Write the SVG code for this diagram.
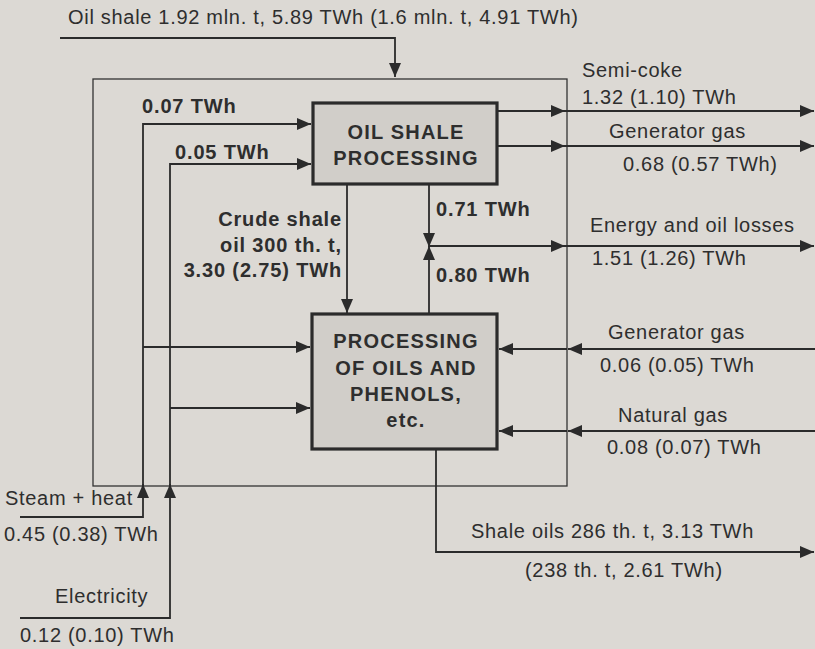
<svg xmlns="http://www.w3.org/2000/svg" width="815" height="649" viewBox="0 0 815 649">
<defs>
<marker id="ah" markerUnits="userSpaceOnUse" markerWidth="15" markerHeight="13" refX="14" refY="6.5" orient="auto">
<path d="M0,0.5 L14,6.5 L0,12.5 z" fill="#2b2b2b"/>
</marker>
<style>
.ln{fill:none;stroke:#2b2b2b;stroke-width:1.8}
.bd{fill:none;stroke:#333;stroke-width:1.3}
.box{fill:#d1cec9;stroke:#2b2b2b;stroke-width:3.2}
.t{font-family:"Liberation Sans",Arial,sans-serif;font-size:20px;letter-spacing:0.7px;fill:#2e2e2e}
.b{font-family:"Liberation Sans",Arial,sans-serif;font-size:20px;letter-spacing:0.85px;font-weight:bold;fill:#2e2e2e}
.bx{font-family:"Liberation Sans",Arial,sans-serif;font-size:20px;letter-spacing:1.2px;font-weight:bold;fill:#2e2e2e;text-anchor:middle}
</style>
</defs>
<rect x="0" y="0" width="815" height="649" fill="#dcd9d4"/>
<rect id="boundary" class="bd" x="93" y="79" width="474" height="407"/>
<g id="connectors">
<path class="ln" d="M60,38 H395 V77" marker-end="url(#ah)"/>
<path class="ln" d="M497,111 H565" marker-end="url(#ah)"/>
<path class="ln" d="M565,111 H814" marker-end="url(#ah)"/>
<path class="ln" d="M497,146 H565" marker-end="url(#ah)"/>
<path class="ln" d="M565,146 H814" marker-end="url(#ah)"/>
<path class="ln" d="M429,185 V247" marker-end="url(#ah)"/>
<path class="ln" d="M429,313 V246" marker-end="url(#ah)"/>
<path class="ln" d="M429,246 H565" marker-end="url(#ah)"/>
<path class="ln" d="M565,246 H814" marker-end="url(#ah)"/>
<path class="ln" d="M347,185 V313" marker-end="url(#ah)"/>
<path class="ln" d="M815,349 H568" marker-end="url(#ah)"/>
<path class="ln" d="M567,349 H499" marker-end="url(#ah)"/>
<path class="ln" d="M815,431 H568" marker-end="url(#ah)"/>
<path class="ln" d="M567,431 H499" marker-end="url(#ah)"/>
<path class="ln" d="M436,450 V552 H814" marker-end="url(#ah)"/>
<path class="ln" d="M20,517 H143 V484" marker-end="url(#ah)"/>
<path class="ln" d="M143,486 V124 H311" marker-end="url(#ah)"/>
<path class="ln" d="M143,347 H310" marker-end="url(#ah)"/>
<path class="ln" d="M20,618 H170 V484" marker-end="url(#ah)"/>
<path class="ln" d="M170,486 V164 H311" marker-end="url(#ah)"/>
<path class="ln" d="M170,408 H310" marker-end="url(#ah)"/>
</g>
<g id="oil-shale-processing">
<rect class="box" x="313" y="103" width="184" height="81"/>
<text class="bx" x="406" y="139">OIL SHALE</text>
<text class="bx" x="406" y="165">PROCESSING</text>
</g>
<g id="processing-oils-phenols">
<rect class="box" x="312" y="314" width="185" height="135"/>
<text class="bx" x="406" y="348">PROCESSING</text>
<text class="bx" x="406" y="375">OF OILS AND</text>
<text class="bx" x="406" y="401">PHENOLS,</text>
<text class="bx" x="406" y="427">etc.</text>
</g>
<g id="labels">
<text class="t" x="68" y="24">Oil shale 1.92 mln. t, 5.89 TWh (1.6 mln. t, 4.91 TWh)</text>
<text class="b" x="142" y="113">0.07 TWh</text>
<text class="b" x="175" y="159">0.05 TWh</text>
<text class="b" x="342" y="226" text-anchor="end">Crude shale</text>
<text class="b" x="342" y="252" text-anchor="end">oil 300 th. t,</text>
<text class="b" x="342" y="277" text-anchor="end">3.30 (2.75) TWh</text>
<text class="b" x="436" y="216">0.71 TWh</text>
<text class="b" x="436" y="282">0.80 TWh</text>
<text class="t" x="582" y="77">Semi-coke</text>
<text class="t" x="582" y="104">1.32 (1.10) TWh</text>
<text class="t" x="609" y="138">Generator gas</text>
<text class="t" x="623" y="171">0.68 (0.57 TWh)</text>
<text class="t" x="590" y="232">Energy and oil losses</text>
<text class="t" x="592" y="265">1.51 (1.26) TWh</text>
<text class="t" x="608" y="339">Generator gas</text>
<text class="t" x="600" y="372">0.06 (0.05) TWh</text>
<text class="t" x="618" y="422">Natural gas</text>
<text class="t" x="607" y="454">0.08 (0.07) TWh</text>
<text class="t" x="471" y="538">Shale oils 286 th. t, 3.13 TWh</text>
<text class="t" x="525" y="577">(238 th. t, 2.61 TWh)</text>
<text class="t" x="5" y="505">Steam + heat</text>
<text class="t" x="4" y="541">0.45 (0.38) TWh</text>
<text class="t" x="55" y="603">Electricity</text>
<text class="t" x="20" y="642">0.12 (0.10) TWh</text>
</g>
</svg>
